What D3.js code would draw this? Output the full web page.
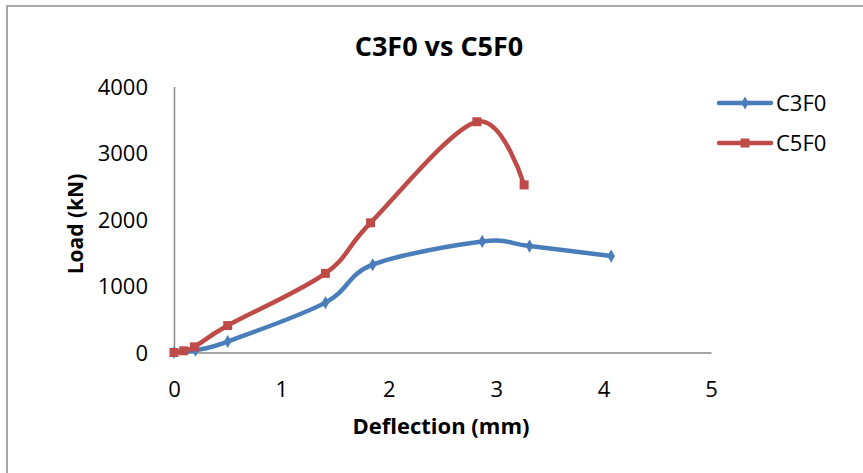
<!DOCTYPE html>
<html>
<head>
<meta charset="utf-8">
<script src="https://cdn.jsdelivr.net/npm/d3@7"></script>
<style>
  html, body { margin: 0; padding: 0; background: #fff; }
  svg { display: block; font-family: "Open Sans", "Noto Sans", sans-serif; }
</style>
</head>
<body>
<svg id="chart" width="863" height="473"></svg>
<script>
// Load–deflection data for the two columns
const seriesNames = ["C3F0", "C5F0"];
const deflectionC3F0 = [0, 0.2, 0.5, 1.41, 1.85, 2.87, 3.31, 4.07];
const loadC3F0       = [0, 35, 165, 750, 1320, 1670, 1600, 1450];
const deflectionC5F0 = [0, 0.09, 0.19, 0.5, 1.41, 1.83, 2.82, 3.26];
const loadC5F0       = [0, 25, 85, 405, 1190, 1950, 3470, 2520];
const xTicks = [0, 1, 2, 3, 4, 5];
const yTicks = [0, 1000, 2000, 3000, 4000];

const colors = { C3F0: "#4A7EBB", C5F0: "#BE4B48" };
const series = [
  { name: seriesNames[0], points: deflectionC3F0.map((d, i) => [d, loadC3F0[i]]) },
  { name: seriesNames[1], points: deflectionC5F0.map((d, i) => [d, loadC5F0[i]]) }
];

const svg = d3.select("#chart");

// chart-area frame
svg.append("rect")
  .attr("x", 7).attr("y", 6)
  .attr("width", 900).attr("height", 520)
  .attr("fill", "#fff")
  .attr("stroke", "#8c8c8c").attr("stroke-width", 1.5);

const x = d3.scaleLinear().domain([0, 5]).range([174, 711]);
const y = d3.scaleLinear().domain([0, 4000]).range([352.5, 86.5]);

// axes (no tick marks, gray domain lines)
const xAxis = svg.append("g")
  .attr("transform", `translate(0,${y(0)})`)
  .call(d3.axisBottom(x).tickValues(xTicks).tickSize(0).tickPadding(0).tickFormat(d3.format("d")));
xAxis.select(".domain").attr("stroke", "#898989").attr("stroke-width", 1.5);
xAxis.selectAll("text")
  .attr("dy", null).attr("y", 44)
  .attr("font-size", 22).attr("fill", "#000")
  .attr("font-family", "'Open Sans', sans-serif");

const yAxis = svg.append("g")
  .attr("transform", `translate(${x(0)},0)`)
  .call(d3.axisLeft(y).tickValues(yTicks).tickSize(0).tickPadding(0).tickFormat(d3.format("d")));
yAxis.select(".domain").attr("stroke", "#898989").attr("stroke-width", 1.5);
yAxis.selectAll("text")
  .attr("x", -26).attr("dy", "0.36em")
  .attr("font-size", 22).attr("fill", "#000")
  .attr("font-family", "'Open Sans', sans-serif");

// smoothed series lines with markers
const line = d3.line()
  .x(d => x(d[0])).y(d => y(d[1]))
  .curve(d3.curveCatmullRom.alpha(0));

const diamond = d3.symbol().type(d3.symbolDiamond).size(50);

series.forEach(s => {
  const g = svg.append("g");
  g.append("path")
    .datum(s.points)
    .attr("d", line)
    .attr("fill", "none")
    .attr("stroke", colors[s.name])
    .attr("stroke-width", 4.5)
    .attr("stroke-linejoin", "round")
    .attr("stroke-linecap", "round");
  if (s.name === "C3F0") {
    g.selectAll("path.mk").data(s.points).join("path")
      .attr("class", "mk")
      .attr("d", diamond)
      .attr("transform", d => `translate(${x(d[0])},${y(d[1])})`)
      .attr("fill", colors[s.name]);
  } else {
    g.selectAll("rect.mk").data(s.points).join("rect")
      .attr("class", "mk")
      .attr("x", d => x(d[0]) - 4.5).attr("y", d => y(d[1]) - 4.5)
      .attr("width", 9).attr("height", 9)
      .attr("fill", colors[s.name]);
  }
});

// title and axis titles
svg.append("text")
  .attr("x", 439).attr("y", 56)
  .attr("text-anchor", "middle")
  .attr("font-size", 27).attr("font-weight", "bold")
  .text("C3F0 vs C5F0");

svg.append("text")
  .attr("x", 441).attr("y", 434)
  .attr("text-anchor", "middle")
  .attr("font-size", 22).attr("font-weight", "bold")
  .text("Deflection (mm)");

svg.append("text")
  .attr("transform", "translate(83,224) rotate(-90)")
  .attr("text-anchor", "middle")
  .attr("font-size", 21).attr("font-weight", "bold")
  .text("Load (kN)");

// legend
const legend = svg.append("g");
series.forEach((s, i) => {
  const ly = 103 + i * 40;
  legend.append("line")
    .attr("x1", 719).attr("x2", 771)
    .attr("y1", ly).attr("y2", ly)
    .attr("stroke", colors[s.name]).attr("stroke-width", 4.5)
    .attr("stroke-linecap", "round");
  if (s.name === "C3F0") {
    legend.append("path")
      .attr("d", diamond)
      .attr("transform", `translate(745,${ly})`)
      .attr("fill", colors[s.name]);
  } else {
    legend.append("rect")
      .attr("x", 740.5).attr("y", ly - 4.5)
      .attr("width", 9).attr("height", 9)
      .attr("fill", colors[s.name]);
  }
  legend.append("text")
    .attr("x", 776).attr("y", ly + 8)
    .attr("font-size", 22)
    .text(s.name);
});
</script>
</body>
</html>
